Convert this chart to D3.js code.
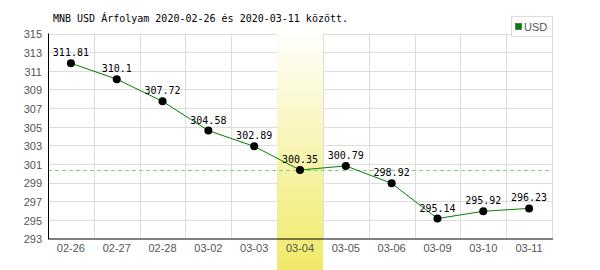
<!DOCTYPE html>
<html>
<head>
<meta charset="utf-8">
<script src="https://cdn.jsdelivr.net/npm/d3@7"></script>
<style>
body { margin: 0; background: #fff; }
</style>
</head>
<body>
<script>
var dates = ['02-26', '02-27', '02-28', '03-02', '03-03', '03-04', '03-05', '03-06', '03-09', '03-10', '03-11'];
var rates = [311.81, 310.1, 307.72, 304.58, 302.89, 300.35, 300.79, 298.92, 295.14, 295.92, 296.23];
var yTicks = [293, 295, 297, 299, 301, 303, 305, 307, 309, 311, 313, 315];
var highlight = '03-04';
var title = 'MNB USD Árfolyam 2020-02-26 és 2020-03-11 között.';

var width = 600, height = 270;
var margin = { left: 48, right: 552, top: 33.5, bottom: 238.5 };

var svg = d3.select('body').append('svg')
    .attr('width', width)
    .attr('height', height);

var x = d3.scaleBand()
    .domain(dates)
    .range([margin.left, margin.right]);
var y = d3.scaleLinear()
    .domain([293, 315])
    .range([margin.bottom, margin.top]);

var grad = svg.append('defs').append('linearGradient')
    .attr('id', 'hl')
    .attr('x1', 0).attr('y1', 0).attr('x2', 0).attr('y2', 1);
grad.append('stop').attr('offset', '0%').attr('stop-color', '#ffffff');
grad.append('stop').attr('offset', '100%').attr('stop-color', '#f0ea68');

// grid
svg.append('g')
    .selectAll('line')
    .data(yTicks.slice(1))
  .enter().append('line')
    .attr('x1', margin.left).attr('x2', margin.right)
    .attr('y1', function(d) { return Math.round(y(d)) + 0.5; })
    .attr('y2', function(d) { return Math.round(y(d)) + 0.5; })
    .attr('stroke', '#dddddd');
svg.append('g')
    .selectAll('line')
    .data(dates.slice(1).concat(['end']))
  .enter().append('line')
    .attr('x1', function(d) { return Math.round(d === 'end' ? margin.right : x(d)) + 0.5; })
    .attr('x2', function(d) { return Math.round(d === 'end' ? margin.right : x(d)) + 0.5; })
    .attr('y1', margin.top).attr('y2', margin.bottom)
    .attr('stroke', '#dddddd');

// highlighted day
svg.append('rect')
    .attr('x', x(highlight))
    .attr('y', 27)
    .attr('width', x.bandwidth())
    .attr('height', height - 27)
    .attr('fill', 'url(#hl)');

// reference line at highlighted value
var hv = rates[dates.indexOf(highlight)];
svg.append('line')
    .attr('x1', margin.left).attr('x2', margin.right)
    .attr('y1', Math.round(y(hv)) + 0.5)
    .attr('y2', Math.round(y(hv)) + 0.5)
    .attr('stroke', '#88cc88')
    .attr('stroke-dasharray', '4,3');

// axes
svg.append('line')
    .attr('x1', margin.left + 0.5).attr('x2', margin.left + 0.5)
    .attr('y1', margin.top).attr('y2', margin.bottom + 0.5)
    .attr('stroke', '#000');
svg.append('line')
    .attr('x1', margin.left).attr('x2', margin.right + 1)
    .attr('y1', margin.bottom + 0.5).attr('y2', margin.bottom + 0.5)
    .attr('stroke', '#000');

svg.append('g')
    .selectAll('text')
    .data(yTicks)
  .enter().append('text')
    .attr('x', 42)
    .attr('y', function(d) { return y(d) + 1; })
    .attr('dy', '0.35em')
    .attr('text-anchor', 'end')
    .style('font', '11px "Liberation Sans", Arial, sans-serif')
    .style('fill', '#555')
    .text(function(d) { return d; });

svg.append('g')
    .selectAll('text')
    .data(dates)
  .enter().append('text')
    .attr('x', function(d) { return x(d) + x.bandwidth() / 2; })
    .attr('y', 252)
    .attr('text-anchor', 'middle')
    .style('font', '11px "Liberation Sans", Arial, sans-serif')
    .style('fill', '#555')
    .text(function(d) { return d; });

// series
var line = d3.line()
    .x(function(d, i) { return x(dates[i]) + x.bandwidth() / 2; })
    .y(function(d) { return y(d); });

svg.append('path')
    .datum(rates)
    .attr('d', line)
    .attr('fill', 'none')
    .attr('stroke', '#008000')
    .attr('stroke-width', 1);

svg.append('g')
    .selectAll('circle')
    .data(rates)
  .enter().append('circle')
    .attr('cx', function(d, i) { return x(dates[i]) + x.bandwidth() / 2; })
    .attr('cy', function(d) { return y(d); })
    .attr('r', 4)
    .attr('fill', '#000');

svg.append('g')
    .selectAll('text')
    .data(rates)
  .enter().append('text')
    .attr('x', function(d, i) { return x(dates[i]) + x.bandwidth() / 2; })
    .attr('y', function(d) { return y(d) - 7; })
    .attr('text-anchor', 'middle')
    .style('font', '10px "DejaVu Sans Mono", monospace')
    .style('fill', '#000')
    .text(function(d) { return d; });

// title
svg.append('text')
    .attr('x', 53)
    .attr('y', 22)
    .style('font', '10px "DejaVu Sans Mono", monospace')
    .style('fill', '#000')
    .text(title);

// legend
var lg = svg.append('g');
lg.append('rect')
    .attr('x', 511.5).attr('y', 16.5)
    .attr('width', 41).attr('height', 20)
    .attr('fill', '#fff')
    .attr('stroke', '#dddddd');
lg.append('rect')
    .attr('x', 515.5).attr('y', 23.5)
    .attr('width', 6).attr('height', 6)
    .attr('fill', '#008000')
    .attr('stroke', '#333')
    .attr('stroke-width', 0.5);
lg.append('text')
    .attr('x', 524)
    .attr('y', 30.5)
    .style('font', '11px "Liberation Sans", Arial, sans-serif')
    .style('fill', '#555')
    .text('USD');
</script>
</body>
</html>
